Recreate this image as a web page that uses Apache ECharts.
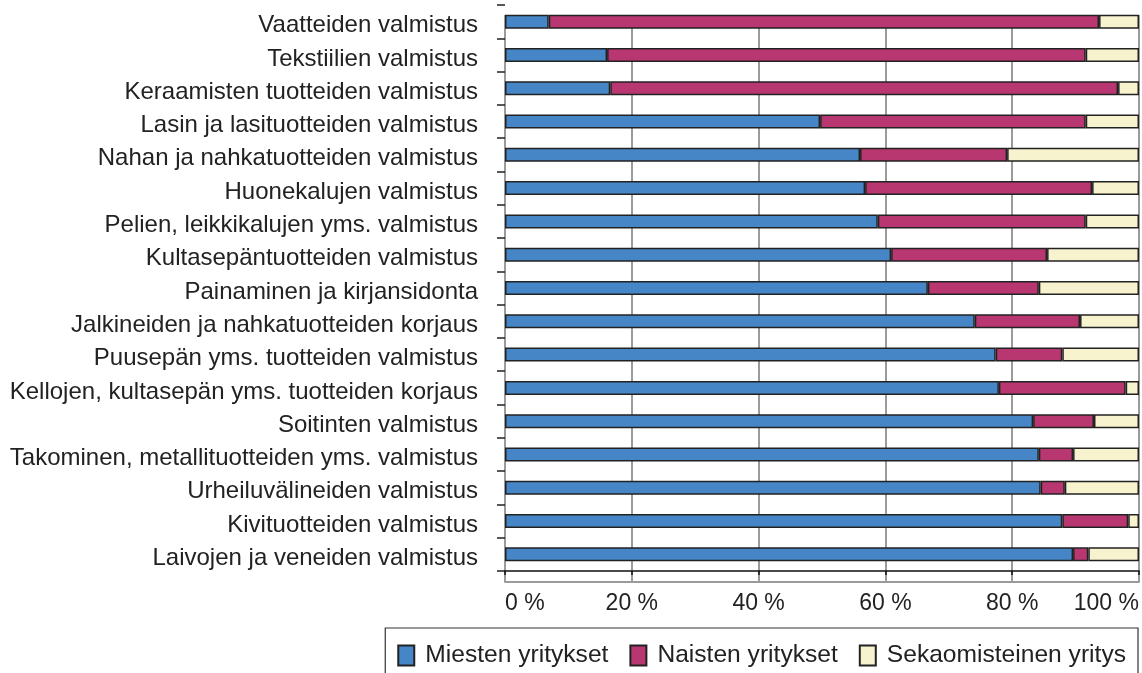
<!DOCTYPE html>
<html>
<head>
<meta charset="utf-8">
<script src="https://cdn.jsdelivr.net/npm/echarts@6/dist/echarts.min.js"></script>
<style>
	html, body { margin: 0; padding: 0; background: #fff; }
	#chart { width: 1142px; height: 673px; }
</style>
</head>
<body>
<div id="chart"></div>
<script>
// categories, top to bottom
var categories = [
	'Vaatteiden valmistus',
	'Tekstiilien valmistus',
	'Keraamisten tuotteiden valmistus',
	'Lasin ja lasituotteiden valmistus',
	'Nahan ja nahkatuotteiden valmistus',
	'Huonekalujen valmistus',
	'Pelien, leikkikalujen yms. valmistus',
	'Kultasepäntuotteiden valmistus',
	'Painaminen ja kirjansidonta',
	'Jalkineiden ja nahkatuotteiden korjaus',
	'Puusepän yms. tuotteiden valmistus',
	'Kellojen, kultasepän yms. tuotteiden korjaus',
	'Soitinten valmistus',
	'Takominen, metallituotteiden yms. valmistus',
	'Urheiluvälineiden valmistus',
	'Kivituotteiden valmistus',
	'Laivojen ja veneiden valmistus'
];

// shares in percent
var miesten = [6.9, 16.1, 16.6, 49.7, 56.0, 56.8, 58.8, 60.9, 66.7, 74.1, 77.4, 77.9, 83.3, 84.2, 84.5, 87.9, 89.6];
var naisten = [86.8, 75.5, 80.1, 41.9, 23.2, 35.8, 32.8, 24.6, 17.5, 16.6, 10.5, 20.0, 9.6, 5.4, 3.8, 10.4, 2.4];
var sekaomisteinen = [6.3, 8.4, 3.3, 8.4, 20.8, 7.4, 8.4, 14.5, 15.8, 9.3, 12.1, 2.1, 7.1, 10.4, 11.7, 1.7, 8.0];

var seriesNames = ['Miesten yritykset', 'Naisten yritykset', 'Sekaomisteinen yritys'];
var colors = ['#4686c6', '#b83770', '#f8f3cf'];

var font = "'Liberation Sans', Arial, Helvetica, sans-serif";

function barSeries(name, data, color) {
	return {
		name: name,
		type: 'bar',
		stack: 'total',
		barWidth: 14,
		data: data,
		itemStyle: { color: color, borderColor: '#222', borderWidth: 1.5 },
		emphasis: { disabled: true },
		z: 3
	};
}

var chart = echarts.init(document.getElementById('chart'), null, { renderer: 'canvas' });

chart.setOption({
	animation: false,
	textStyle: { fontFamily: font },
	grid: [
		{ left: 505, right: 3, top: 5, bottom: 102, containLabel: false },
		// second grid only for the grey gridlines and frame (a bit taller than the bars)
		{ left: 505, right: 3, top: 15, bottom: 91, containLabel: false }
	],
	legend: {
		data: seriesNames,
		right: 4,
		top: 628,
		orient: 'horizontal',
		icon: 'rect',
		itemWidth: 16,
		itemHeight: 20,
		itemGap: 21,
		padding: [15, 12, 20, 12],
		borderColor: '#333',
		borderWidth: 1.2,
		textStyle: { fontSize: 24.6, color: '#222', fontFamily: font, padding: [0, 0, 0, 6] }
	},
	xAxis: [
		{
			type: 'value',
			min: 0,
			max: 100,
			interval: 20,
			axisLine: { show: true, lineStyle: { color: '#111', width: 1.5 } },
			axisTick: { show: true, length: 4, lineStyle: { color: '#111', width: 1.5 } },
			splitLine: { show: false },
			axisLabel: {
				formatter: '{value} %',
				fontSize: 23,
				color: '#222',
				margin: 21,
				alignMinLabel: 'left',
				alignMaxLabel: 'right'
			}
		},
		{
			type: 'value',
			gridIndex: 1,
			min: 0,
			max: 100,
			interval: 20,
			axisLine: { show: true, lineStyle: { color: '#9a9a9a', width: 2 } },
			axisTick: { show: false },
			axisLabel: { show: false },
			splitLine: { show: true, lineStyle: { color: '#7a7a7a', width: 1.5 } }
		}
	],
	yAxis: [
		{
			type: 'category',
			data: categories,
			inverse: true,
			axisLine: { show: false },
			axisTick: { show: true, length: 8, lineStyle: { color: '#222', width: 1.5 } },
			axisLabel: { fontSize: 24, color: '#222', margin: 27, verticalAlign: 'top', lineHeight: 8 }
		},
		{ type: 'category', gridIndex: 1, show: false, data: [''] }
	],
	series: [
		barSeries(seriesNames[0], miesten, colors[0]),
		barSeries(seriesNames[1], naisten, colors[1]),
		barSeries(seriesNames[2], sekaomisteinen, colors[2])
	]
});
</script>
</body>
</html>
